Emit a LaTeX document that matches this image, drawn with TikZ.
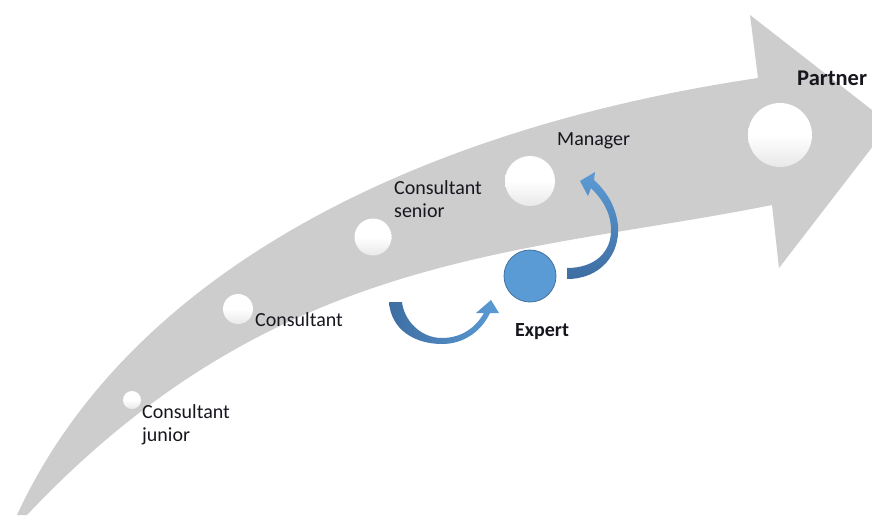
\documentclass[tikz,border=0pt]{standalone}
\usepackage{fontspec}
\setmainfont{Carlito}
\definecolor{band}{RGB}{205,205,205}
\definecolor{blueL}{RGB}{91,155,213}
\definecolor{blueD}{RGB}{62,110,162}
\definecolor{blueE}{RGB}{65,113,156}
\definecolor{ink}{RGB}{22,22,30}
\definecolor{ballbot}{RGB}{232,232,232}
\begin{document}
\begin{tikzpicture}[x=1pt,y=-1pt,
  ball/.style={circle,inner sep=0pt,top color=white,bottom color=ballbot,middle color=white},
  lbl/.style={inner sep=0pt,anchor=base west,align=left,text=ink,font=\fontsize{20}{22.5}\selectfont},
  blbl/.style={lbl,font=\fontsize{20}{23}\selectfont\bfseries}]
\useasboundingbox (0,0) rectangle (872,515);
% big curved arrow
\fill[band] (17,515) .. controls (130,270) and (420,128) .. (758,78)
  -- (750,15) -- (890,124) -- (779,268) -- (772,205)
  .. controls (522,255) and (277,250) .. (27,515) -- cycle;
% white balls
\node[ball,minimum size=18pt] (jun) at (132,400) {};
\node[ball,minimum size=30pt] (con) at (238,309) {};
\node[ball,minimum size=37pt] (sen) at (373,237) {};
\node[ball,minimum size=50pt] (man) at (530,181) {};
\node[ball,minimum size=64pt] (par) at (780,135) {};
% expert
\node[circle,inner sep=0pt,minimum size=52pt,fill=blueL,draw=blueE,line width=0.8pt] (exp) at (530,276) {};
% curved arrow to expert
\shade[left color=blueD,right color=blueL]
  (389,302) .. controls (391,330) and (415,344) .. (442,344)
  .. controls (465,344) and (482,330) .. (490,313)
  -- (499,313) -- (491,300) -- (476,313) -- (484,313)
  .. controls (476,327) and (462,338) .. (442,338)
  .. controls (420,338) and (404,320) .. (402,302) -- cycle;
% curved arrow to manager
\shade[bottom color=blueD,top color=blueL]
  (567,279) .. controls (600,279) and (620,255) .. (618,226)
  .. controls (616,205) and (605,190) .. (594,180)
  -- (595,172) -- (580,181) -- (588,196) -- (591,188)
  .. controls (601,198) and (610,210) .. (611,228)
  .. controls (612,252) and (595,268) .. (567,268) -- cycle;
% labels
\node[lbl] (tjun) at (142,441) {Consultant\\junior};
\node[lbl] (tcon) at (255,326) {Consultant};
\node[lbl] (tsen) at (394,217) {Consultant\\senior};
\node[lbl] (tman) at (557,145) {Manager};
\node[blbl] (texp) at (515,336) {Expert};
\node[blbl,font=\fontsize{22.5}{24}\selectfont\bfseries] (tpar) at (797,85) {Partner};
\end{tikzpicture}
\end{document}
